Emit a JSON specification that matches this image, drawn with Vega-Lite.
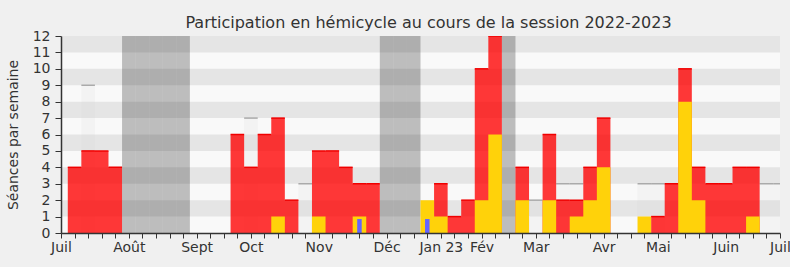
{
  "$schema": "https://vega.github.io/schema/vega-lite/v6.json",
  "width": 719,
  "height": 197,
  "autosize": "none",
  "padding": {"left": 61, "top": 36, "right": 10, "bottom": 34},
  "background": "#f0f0f0",
  "title": {
    "text": "Participation en hémicycle au cours de la session 2022-2023",
    "font": "DejaVu Sans",
    "fontSize": 16,
    "fontWeight": "normal",
    "color": "#333333",
    "anchor": "middle",
    "dx": 8,
    "offset": -2
  },
  "config": {
    "view": {"fill": "#f9f9f9", "stroke": null},
    "scale": {"continuousPadding": 0},
    "axis": {
      "grid": false,
      "labelOverlap": false,
      "labelFlush": false,
      "labelBound": false,
      "domainColor": "#333333",
      "tickColor": "#333333",
      "labelColor": "#333333",
      "labelFont": "DejaVu Sans",
      "labelFontSize": 14,
      "titleFont": "DejaVu Sans",
      "titleFontSize": 14,
      "titleFontWeight": "normal",
      "titleColor": "#333333"
    }
  },
  "datasets": {
    "bandes": [
      {"de": 1, "a": 2}, {"de": 3, "a": 4}, {"de": 5, "a": 6},
      {"de": 7, "a": 8}, {"de": 9, "a": 10}, {"de": 11, "a": 12}
    ],
    "semaines": [
      {"w": 0, "presences": 0, "interventions": 0, "questions": 0, "mediane": 0, "vacances": 0},
      {"w": 1, "presences": 4, "interventions": 0, "questions": 0, "mediane": 0, "vacances": 0},
      {"w": 2, "presences": 5, "interventions": 0, "questions": 0, "mediane": 9, "vacances": 0},
      {"w": 3, "presences": 5, "interventions": 0, "questions": 0, "mediane": 0, "vacances": 0},
      {"w": 4, "presences": 4, "interventions": 0, "questions": 0, "mediane": 0, "vacances": 0},
      {"w": 5, "presences": 0, "interventions": 0, "questions": 0, "mediane": 0, "vacances": 1},
      {"w": 6, "presences": 0, "interventions": 0, "questions": 0, "mediane": 0, "vacances": 1},
      {"w": 7, "presences": 0, "interventions": 0, "questions": 0, "mediane": 0, "vacances": 1},
      {"w": 8, "presences": 0, "interventions": 0, "questions": 0, "mediane": 0, "vacances": 1},
      {"w": 9, "presences": 0, "interventions": 0, "questions": 0, "mediane": 0, "vacances": 1},
      {"w": 10, "presences": 0, "interventions": 0, "questions": 0, "mediane": 0, "vacances": 0},
      {"w": 11, "presences": 0, "interventions": 0, "questions": 0, "mediane": 0, "vacances": 0},
      {"w": 12, "presences": 0, "interventions": 0, "questions": 0, "mediane": 0, "vacances": 0},
      {"w": 13, "presences": 6, "interventions": 0, "questions": 0, "mediane": 0, "vacances": 0},
      {"w": 14, "presences": 4, "interventions": 0, "questions": 0, "mediane": 7, "vacances": 0},
      {"w": 15, "presences": 6, "interventions": 0, "questions": 0, "mediane": 0, "vacances": 0},
      {"w": 16, "presences": 7, "interventions": 1, "questions": 0, "mediane": 0, "vacances": 0},
      {"w": 17, "presences": 2, "interventions": 0, "questions": 0, "mediane": 0, "vacances": 0},
      {"w": 18, "presences": 0, "interventions": 0, "questions": 0, "mediane": 3, "vacances": 0},
      {"w": 19, "presences": 5, "interventions": 1, "questions": 0, "mediane": 0, "vacances": 0},
      {"w": 20, "presences": 5, "interventions": 0, "questions": 0, "mediane": 0, "vacances": 0},
      {"w": 21, "presences": 4, "interventions": 0, "questions": 0, "mediane": 0, "vacances": 0},
      {"w": 22, "presences": 3, "interventions": 1, "questions": 0.85, "mediane": 0, "vacances": 0},
      {"w": 23, "presences": 3, "interventions": 0, "questions": 0, "mediane": 0, "vacances": 0},
      {"w": 24, "presences": 0, "interventions": 0, "questions": 0, "mediane": 0, "vacances": 1},
      {"w": 25, "presences": 0, "interventions": 0, "questions": 0, "mediane": 0, "vacances": 1},
      {"w": 26, "presences": 0, "interventions": 0, "questions": 0, "mediane": 0, "vacances": 1},
      {"w": 27, "presences": 0, "interventions": 2, "questions": 0.85, "mediane": 0, "vacances": 0},
      {"w": 28, "presences": 3, "interventions": 1, "questions": 0, "mediane": 0, "vacances": 0},
      {"w": 29, "presences": 1, "interventions": 0, "questions": 0, "mediane": 0, "vacances": 0},
      {"w": 30, "presences": 2, "interventions": 0, "questions": 0, "mediane": 0, "vacances": 0},
      {"w": 31, "presences": 10, "interventions": 2, "questions": 0, "mediane": 0, "vacances": 0},
      {"w": 32, "presences": 12, "interventions": 6, "questions": 0, "mediane": 0, "vacances": 0},
      {"w": 33, "presences": 0, "interventions": 0, "questions": 0, "mediane": 0, "vacances": 1},
      {"w": 34, "presences": 4, "interventions": 2, "questions": 0, "mediane": 0, "vacances": 0},
      {"w": 35, "presences": 0, "interventions": 0, "questions": 0, "mediane": 2, "vacances": 0},
      {"w": 36, "presences": 6, "interventions": 2, "questions": 0, "mediane": 0, "vacances": 0},
      {"w": 37, "presences": 2, "interventions": 0, "questions": 0, "mediane": 3, "vacances": 0},
      {"w": 38, "presences": 2, "interventions": 1, "questions": 0, "mediane": 3, "vacances": 0},
      {"w": 39, "presences": 4, "interventions": 2, "questions": 0, "mediane": 0, "vacances": 0},
      {"w": 40, "presences": 7, "interventions": 4, "questions": 0, "mediane": 0, "vacances": 0},
      {"w": 41, "presences": 0, "interventions": 0, "questions": 0, "mediane": 0, "vacances": 0},
      {"w": 42, "presences": 0, "interventions": 0, "questions": 0, "mediane": 0, "vacances": 0},
      {"w": 43, "presences": 0, "interventions": 1, "questions": 0, "mediane": 3, "vacances": 0},
      {"w": 44, "presences": 1, "interventions": 0, "questions": 0, "mediane": 3, "vacances": 0},
      {"w": 45, "presences": 3, "interventions": 0, "questions": 0, "mediane": 0, "vacances": 0},
      {"w": 46, "presences": 10, "interventions": 8, "questions": 0, "mediane": 0, "vacances": 0},
      {"w": 47, "presences": 4, "interventions": 2, "questions": 0, "mediane": 0, "vacances": 0},
      {"w": 48, "presences": 3, "interventions": 0, "questions": 0, "mediane": 0, "vacances": 0},
      {"w": 49, "presences": 3, "interventions": 0, "questions": 0, "mediane": 0, "vacances": 0},
      {"w": 50, "presences": 4, "interventions": 0, "questions": 0, "mediane": 0, "vacances": 0},
      {"w": 51, "presences": 4, "interventions": 1, "questions": 0, "mediane": 0, "vacances": 0},
      {"w": 52, "presences": 0, "interventions": 0, "questions": 0, "mediane": 3, "vacances": 0},
      {"w": 53, "presences": 0, "interventions": 0, "questions": 0, "mediane": 3, "vacances": 0}
    ]
  },
  "data": {"name": "semaines"},
  "layer": [
    {
      "data": {"name": "bandes"},
      "mark": {"type": "rect", "color": "#e5e5e5"},
      "encoding": {
        "x": {
          "datum": 0,
          "type": "quantitative",
          "scale": {"domain": [0, 53], "nice": false, "zero": false, "padding": 0},
          "axis": {
            "orient": "bottom",
            "title": null,
            "tickCount": 53,
            "labelExpr": "indexof([0,5,10,14,19,24,28,31,35,40,44,49,53], datum.value) >= 0 ? ['Juil','Août','Sept','Oct','Nov','Déc','Jan 23','Fév','Mar','Avr','Mai','Juin','\u00a0\u00a0\u00a0\u00a0Juil'][indexof([0,5,10,14,19,24,28,31,35,40,44,49,53], datum.value)] : ''",
            "labelOverlap": false,
            "labelFlush": false,
            "labelBound": false,
            "labelSeparation": -100,
            "tickSize": 5,
            "labelPadding": 2,
            "domainWidth": 1.5,
            "zindex": 1
          }
        },
        "x2": {"datum": 53},
        "y": {
          "field": "de",
          "type": "quantitative",
          "scale": {"domain": [0, 12], "nice": false, "padding": 0},
          "axis": {
            "orient": "left",
            "title": "Séances par semaine",
            "tickCount": 12,
            "labelOverlap": false,
            "labelSeparation": -100,
            "tickSize": 6,
            "labelPadding": 5,
            "titlePadding": 12,
            "domainWidth": 1.5,
            "zindex": 1
          }
        },
        "y2": {"field": "a"}
      }
    },
    {
      "mark": {"type": "area", "interpolate": "step", "color": "#d1d1d1", "opacity": 0.15, "clip": true},
      "encoding": {
        "x": {"field": "w", "type": "quantitative"},
        "y": {"field": "mediane", "type": "quantitative"}
      }
    },
    {
      "transform": [{"filter": "datum.mediane > datum.presences"}],
      "mark": {"type": "tick", "orient": "horizontal", "color": "#aaaaaa", "thickness": 1.5, "size": 13.566, "opacity": 1, "clip": true},
      "encoding": {
        "x": {"field": "w", "type": "quantitative"},
        "y": {"field": "mediane", "type": "quantitative"}
      }
    },
    {
      "transform": [{"filter": "datum.vacances == 1"}],
      "mark": {"type": "bar", "orient": "vertical", "color": "#000000", "opacity": 0.24, "width": 13.566},
      "encoding": {
        "x": {"field": "w", "type": "quantitative"},
        "y": {"datum": 12, "type": "quantitative"},
        "y2": {"datum": 0}
      }
    },
    {
      "mark": {"type": "area", "interpolate": "step", "color": "#ff0000", "opacity": 0.78, "clip": true},
      "encoding": {
        "x": {"field": "w", "type": "quantitative"},
        "y": {"field": "presences", "type": "quantitative"}
      }
    },
    {
      "transform": [{"filter": "datum.presences > 0"}],
      "mark": {"type": "tick", "orient": "horizontal", "color": "#f00000", "thickness": 1.5, "size": 13.566, "opacity": 1, "clip": true},
      "encoding": {
        "x": {"field": "w", "type": "quantitative"},
        "y": {"field": "presences", "type": "quantitative"}
      }
    },
    {
      "mark": {"type": "area", "interpolate": "step", "color": "#ffd20a", "opacity": 1, "clip": true},
      "encoding": {
        "x": {"field": "w", "type": "quantitative"},
        "y": {"field": "interventions", "type": "quantitative"}
      }
    },
    {
      "transform": [{"filter": "datum.questions > 0"}],
      "mark": {"type": "bar", "orient": "vertical", "color": "#6464ff", "width": 4.5, "opacity": 1},
      "encoding": {
        "x": {"field": "w", "type": "quantitative"},
        "y": {"field": "questions", "type": "quantitative"},
        "y2": {"datum": 0}
      }
    }
  ]
}
